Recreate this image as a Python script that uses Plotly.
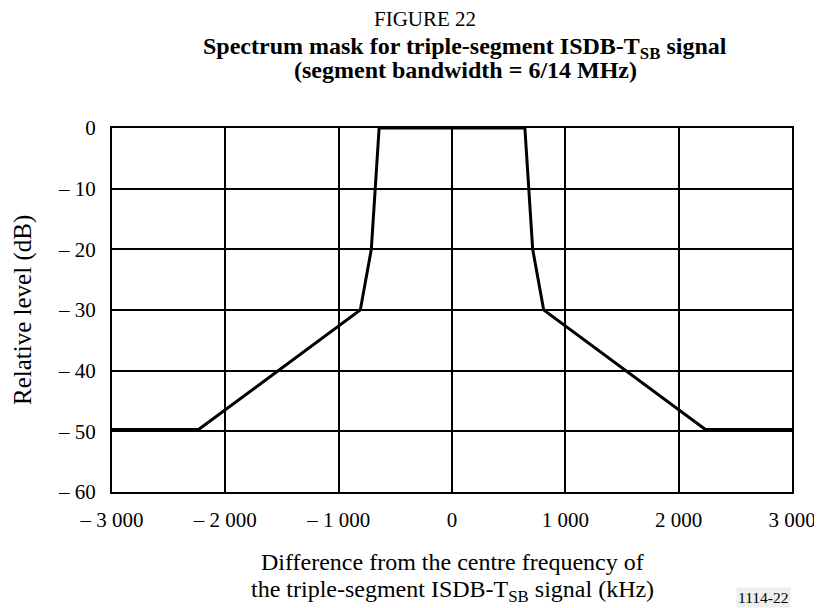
import plotly.graph_objects as go

# Mask data (kHz, dB)
freq_khz = [-3000, -2236, -809, -712, -643, 643, 712, 809, 2236, 3000]
level_db = [-49.7, -49.7, -30, -20, 0, 0, -20, -30, -49.7, -49.7]

x_ticks = [-3000, -2000, -1000, 0, 1000, 2000, 3000]
x_tick_labels = ["– 3 000", "– 2 000", "– 1 000", "0", "1 000", "2 000", "3 000"]
y_ticks = [-60, -50, -40, -30, -20, -10, 0]
y_tick_labels = ["– 60", "– 50", "– 40", "– 30", "– 20", "– 10", "0"]

FONT = "Liberation Serif, Times New Roman, serif"
OFF = 8  # page body margin
W, H = 822 - OFF, 608 - OFF
# plot area in page pixels
PL, PR, PT, PB = 112, 792, 128, 492
L, R, T, B = PL - OFF, PR - OFF, PT - OFF, PB - OFF

fig = go.Figure()
fig.add_trace(go.Scatter(x=freq_khz, y=level_db, mode="lines",
                         line=dict(color="black", width=3), showlegend=False,
                         hoverinfo="skip", cliponaxis=False))

fig.update_layout(
    width=W, height=H,
    margin=dict(l=L, r=W - R, t=T, b=H - B, autoexpand=False),
    paper_bgcolor="white", plot_bgcolor="white",
    font=dict(family=FONT, size=21, color="black"),
    xaxis=dict(range=[-3000, 3000], tickvals=x_ticks, ticktext=x_tick_labels,
               showgrid=True, gridcolor="black", gridwidth=2, automargin=False,
               showline=True, linecolor="black", linewidth=2, mirror=True,
               zeroline=False, ticks="outside", ticklen=8, tickcolor="white",
               tickfont=dict(size=21, family=FONT)),
    yaxis=dict(range=[-60, 0], tickvals=y_ticks, ticktext=y_tick_labels,
               showgrid=True, gridcolor="black", gridwidth=2, automargin=False,
               showline=True, linecolor="black", linewidth=2, mirror=True,
               zeroline=False, ticks="outside", ticklen=10, tickcolor="white",
               tickfont=dict(size=21, family=FONT)),
)

def ann(text, px, py, size=17, angle=0, **kw):
    # px, py in page pixels
    fig.add_annotation(text=text, x=(px - PL) / (PR - PL), y=(PB - py) / (PB - PT),
                       xref="paper", yref="paper",
                       xanchor="center", yanchor="middle", showarrow=False,
                       textangle=angle, font=dict(size=size, family=FONT), **kw)

ann("FIGURE 22", 425, 19, size=21)
ann("<b>Spectrum mask for triple-segment ISDB-T<sub>SB</sub> signal</b>", 465, 48, size=24)
ann("<b>(segment bandwidth = 6/14 MHz)</b>", 465, 70, size=24)
ann("Relative level (dB)", 23, 310, size=25, angle=-90)
ann("Difference from the centre frequency of", 452, 562, size=24)
ann("the triple-segment ISDB-T<sub>SB</sub> signal (kHz)", 452, 591, size=24)
ann("1114-22", 763, 597, size=15.5, bgcolor="#eeeeee")

fig.write_html("out.html")
